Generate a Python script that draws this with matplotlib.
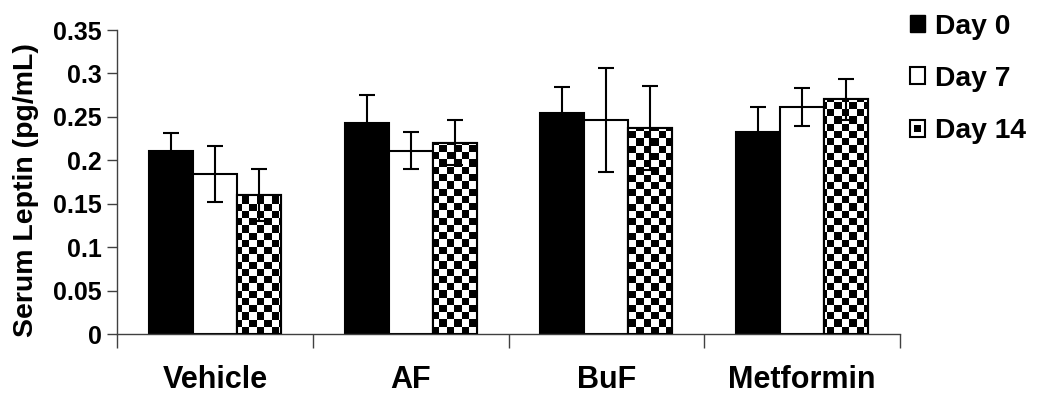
import numpy as np
import matplotlib
matplotlib.use("Agg")
import matplotlib.pyplot as plt
from matplotlib.patches import Rectangle
from matplotlib.legend_handler import HandlerBase

plt.rcParams["font.family"] = ["Liberation Sans", "DejaVu Sans"]
plt.rcParams["font.weight"] = "bold"

# Data
groups = ["Vehicle", "AF", "BuF", "Metformin"]
series = ["Day 0", "Day 7", "Day 14"]
day0 = [0.211, 0.243, 0.255, 0.232]
day7 = [0.184, 0.211, 0.246, 0.261]
day14 = [0.160, 0.220, 0.237, 0.270]
err0 = [0.020, 0.032, 0.029, 0.029]
err7 = [0.032, 0.021, 0.060, 0.022]
err14 = [0.030, 0.026, 0.048, 0.024]
yticks = [0, 0.05, 0.1, 0.15, 0.2, 0.25, 0.3, 0.35]
ytick_labels = ["0", "0.05", "0.1", "0.15", "0.2", "0.25", "0.3", "0.35"]

W, H, DPI = 1038, 398, 100
fig = plt.figure(figsize=(W / DPI, H / DPI), dpi=DPI)
ax = fig.add_axes([117 / W, 64 / H, (900 - 117) / W, (334 - 30) / H])

bar_w = 0.225
centers = np.arange(len(groups)) + 0.5
values = [day0, day7, day14]
errors = [err0, err7, err14]
offsets = [-bar_w, 0.0, bar_w]
faces = ["black", "white", "white"]

# checkerboard texture for the Day 14 bars (~7 px cells)
cell_px = 7.3
nx = int(round(783 / cell_px))
ny = int(round(304 / cell_px))
checker = (np.indices((ny, nx)).sum(axis=0) % 2).astype(float)

for k in range(3):
    bars = ax.bar(centers + offsets[k], values[k], width=bar_w,
                  color=faces[k], edgecolor="black", linewidth=1.5, zorder=2)
    if k == 2:
        for b in bars:
            im = ax.imshow(checker, cmap="gray", vmin=0, vmax=1,
                           extent=(0, 1, 0, 1), transform=ax.transAxes,
                           interpolation="nearest", aspect="auto", zorder=2.5)
            im.set_clip_path(b)
            edge = Rectangle(b.get_xy(), b.get_width(), b.get_height(),
                             fill=False, edgecolor="black", linewidth=1.5,
                             zorder=2.6)
            ax.add_patch(edge)
    ax.errorbar(centers + offsets[k], values[k], yerr=errors[k], fmt="none",
                ecolor="black", elinewidth=1.5, capsize=6, capthick=1.5,
                zorder=3)

ax.set_xlim(0, 4)
ax.set_ylim(0, 0.35)

for s in ["top", "right"]:
    ax.spines[s].set_visible(False)
for s in ["left", "bottom"]:
    ax.spines[s].set_color("#404040")
    ax.spines[s].set_linewidth(1.0)

ax.set_yticks(yticks)
ax.set_yticklabels(ytick_labels)
ax.tick_params(axis="y", direction="out", length=7, width=1, color="#404040",
               labelsize=18, pad=4)

ax.set_xticks(np.arange(len(groups) + 1))
ax.set_xticklabels([])
ax.set_xticks(centers, minor=True)
ax.set_xticklabels(groups, minor=True)
ax.tick_params(axis="x", which="major", direction="out", length=10, width=1,
               color="#404040")
ax.tick_params(axis="x", which="minor", length=0, labelsize=22, pad=22)

ax.set_ylabel("Serum Leptin (pg/mL)", fontsize=20.5, fontweight="bold",
              labelpad=10)
ax.yaxis.label.set_y(0.474)


class CheckerIcon(HandlerBase):
    def create_artists(self, legend, orig_handle, xdescent, ydescent,
                       width, height, fontsize, trans):
        outer = Rectangle((-xdescent, -ydescent), width, height,
                          facecolor="white", edgecolor="black", linewidth=1.5,
                          transform=trans)
        inner = Rectangle((-xdescent + width * 0.3, -ydescent + height * 0.3),
                          width * 0.4, height * 0.4, facecolor="black",
                          edgecolor="none", transform=trans)
        return [outer, inner]


h0 = Rectangle((0, 0), 1, 1, facecolor="black", edgecolor="black")
h7 = Rectangle((0, 0), 1, 1, facecolor="white", edgecolor="black", linewidth=1.5)
h14 = Rectangle((0, 0), 1, 1, facecolor="white", edgecolor="black")
fig.legend([h0, h7, h14], series, loc="upper left",
           bbox_to_anchor=(890 / W, 1 + 6 / H), frameon=False,
           prop={"size": 20.3, "weight": "bold"},
           handlelength=0.55, handleheight=0.55, handletextpad=0.35,
           labelspacing=0.93, borderpad=0.2,
           handler_map={h14: CheckerIcon()})

fig.savefig("out.png", dpi=DPI)
